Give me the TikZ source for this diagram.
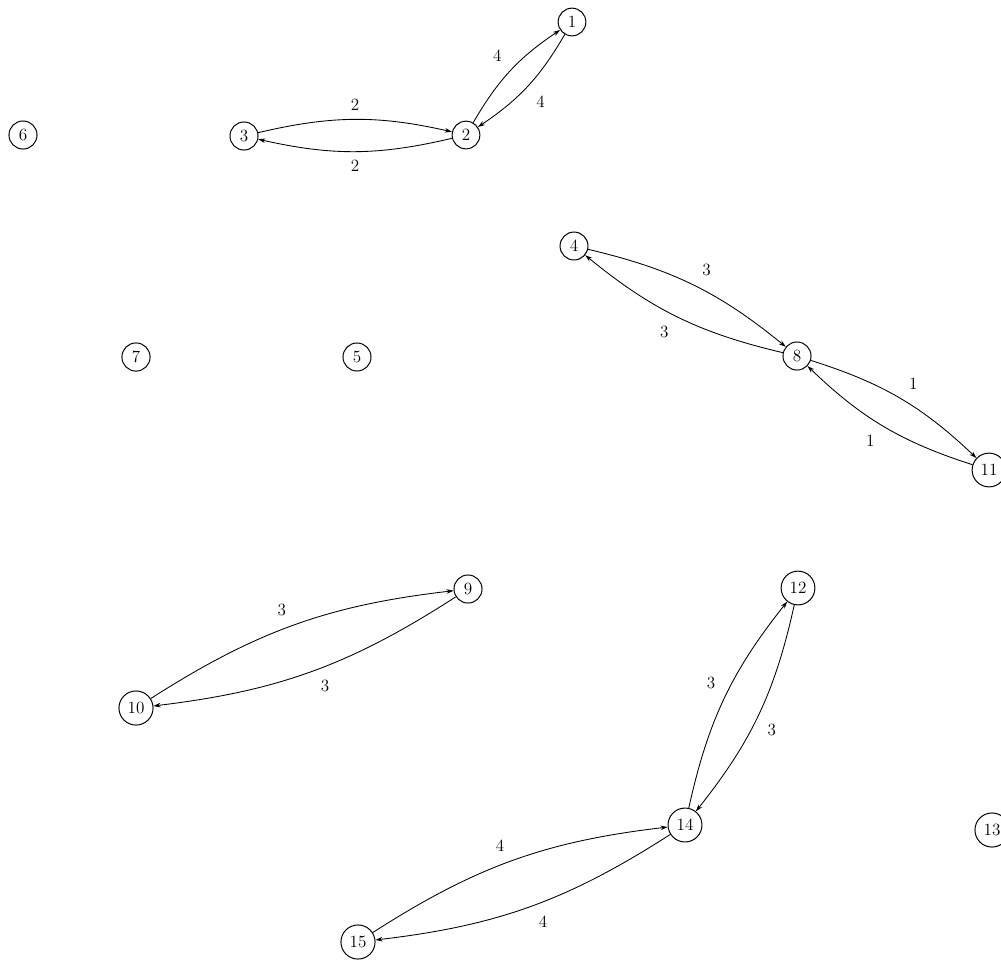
\documentclass[tikz,border=0pt]{standalone}
\usetikzlibrary{arrows.meta}
\begin{document}
\begin{tikzpicture}[x=0.7pt,y=-0.7pt,
  vtx/.style={draw,circle,line width=0.7pt,inner sep=3.4pt,font=\large},
  arc/.style={-{Stealth[length=5pt,width=3.2pt]},line width=0.6pt,bend left=13},
  lbl/.style={auto,inner sep=6pt,font=\large}]
\clip (0,0) rectangle (1001,960);
\fill[white] (0,0) rectangle (1001,960);
\node[vtx] (n1) at (572,22) {1};
\node[vtx] (n2) at (466,135) {2};
\node[vtx] (n3) at (244,136) {3};
\node[vtx] (n6) at (23,135) {6};
\node[vtx] (n4) at (574,246) {4};
\node[vtx] (n8) at (797,356) {8};
\node[vtx] (n7) at (136,357) {7};
\node[vtx] (n5) at (357,357) {5};
\node[vtx] (n11) at (989,470) {11};
\node[vtx] (n9) at (468,589) {9};
\node[vtx] (n12) at (798,588) {12};
\node[vtx] (n10) at (136,708) {10};
\node[vtx] (n14) at (685,825) {14};
\node[vtx] (n13) at (992,830) {13};
\node[vtx] (n15) at (358,942) {15};
\draw[arc] (n3) to node[lbl] {2} (n2);
\draw[arc] (n2) to node[lbl] {2} (n3);
\draw[arc] (n2) to node[lbl] {4} (n1);
\draw[arc] (n1) to node[lbl] {4} (n2);
\draw[arc] (n4) to node[lbl] {3} (n8);
\draw[arc] (n8) to node[lbl] {3} (n4);
\draw[arc] (n8) to node[lbl] {1} (n11);
\draw[arc] (n11) to node[lbl] {1} (n8);
\draw[arc] (n10) to node[lbl] {3} (n9);
\draw[arc] (n9) to node[lbl] {3} (n10);
\draw[arc] (n14) to node[lbl] {3} (n12);
\draw[arc] (n12) to node[lbl] {3} (n14);
\draw[arc] (n15) to node[lbl] {4} (n14);
\draw[arc] (n14) to node[lbl] {4} (n15);
\end{tikzpicture}
\end{document}
